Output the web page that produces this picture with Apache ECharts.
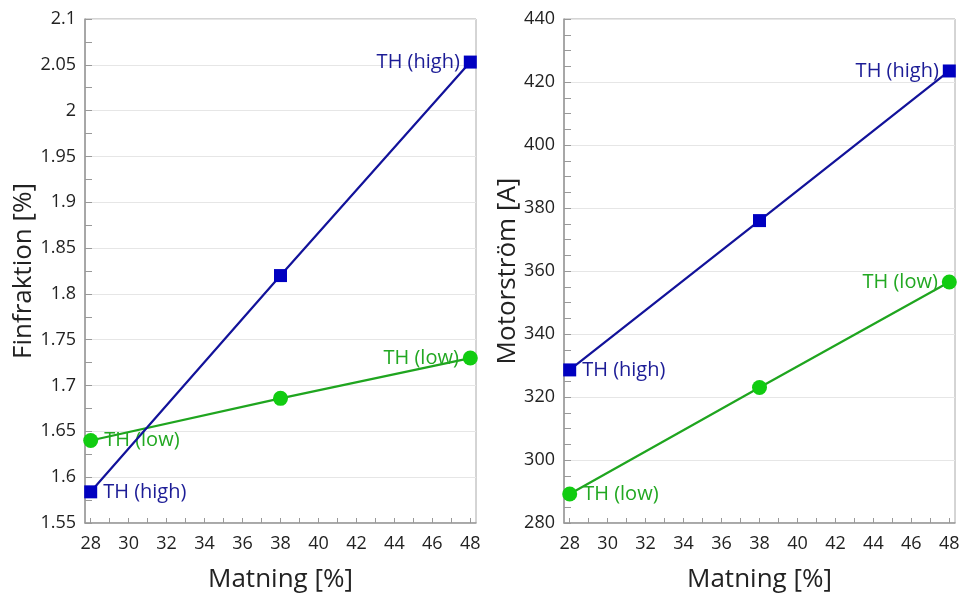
<!DOCTYPE html>
<html><head><meta charset="utf-8">
<script src="https://cdn.jsdelivr.net/npm/echarts@6/dist/echarts.min.js"></script>
<style>html,body{margin:0;padding:0;background:#fff}#c{width:962px;height:594px}</style>
</head><body><div id="c"></div>
<script>
const xValues = [28, 38, 48];
const finHigh = [1.584, 1.820, 2.053];
const finLow = [1.640, 1.686, 1.730];
const motHigh = [328.6, 376, 423.5];
const motLow = [289.2, 323, 356.5];
const xTickLabels = [28, 30, 32, 34, 36, 38, 40, 42, 44, 46, 48];
const xTicks = [28, 29, 30, 31, 32, 33, 34, 35, 36, 37, 38, 39, 40, 41, 42, 43, 44, 45, 46, 47, 48];
const xName = 'Matning [%]';
const yNameLeft = 'Finfraktion [%]';
const yNameRight = 'Motorström [A]';
const labelHigh = 'TH (high)';
const labelLow = 'TH (low)';

const FONT = 'Open Sans';
const BLUE = '#0000c0', BLUE_LINE = '#12129a', BLUE_TXT = '#1c1c96';
const GREEN = '#11cc11', GREEN_LINE = '#1fa51f', GREEN_TXT = '#22a822';

function pts(ys, txt, color) {
  return xValues.map((x, i) => {
    const item = { value: [x, ys[i]] };
    if (i === 0) item.label = { show: true, position: 'right', distance: 6, formatter: txt, color: color, fontSize: 20, fontFamily: FONT };
    if (i === xValues.length - 1) item.label = { show: true, position: 'left', distance: 4, formatter: txt, color: color, fontSize: 20, fontFamily: FONT };
    return item;
  });
}

function xAxis(gi) {
  return {
    gridIndex: gi, type: 'value', min: 27.7, max: 48.3,
    name: xName, nameLocation: 'middle', nameGap: 44,
    nameTextStyle: { fontSize: 26, fontFamily: FONT, color: '#222' },
    axisLine: { lineStyle: { color: '#999', width: 1.5 } },
    axisTick: { inside: true, length: 5, customValues: xTicks, lineStyle: { color: '#999' } },
    axisLabel: { fontSize: 18, fontFamily: FONT, color: '#222', margin: 12, customValues: xTickLabels },
    splitLine: { show: false }
  };
}
function yAxis(gi, min, max, interval, minorSplit, name, fmt) {
  return {
    gridIndex: gi, type: 'value', min: min, max: max, interval: interval,
    name: name, nameLocation: 'middle', nameGap: gi === 0 ? 45 : 42, nameRotate: 90,
    nameTextStyle: { fontSize: 26, fontFamily: FONT, color: '#222' },
    axisLine: { show: true, lineStyle: { color: '#999', width: 1.5 } },
    axisTick: { inside: true, length: 7, lineStyle: { color: '#999' } },
    minorTick: { show: true, splitNumber: minorSplit, length: 7, lineStyle: { color: '#999' } },
    axisLabel: { fontSize: 18, fontFamily: FONT, color: '#222', margin: 9, formatter: fmt },
    splitLine: { show: true, lineStyle: { color: '#e6e6e6' } }
  };
}

function series(gi, ys, txt, sym, size, mcol, lcol, tcol) {
  return {
    type: 'line', xAxisIndex: gi, yAxisIndex: gi,
    data: pts(ys, txt, tcol), symbol: sym, symbolSize: size,
    itemStyle: { color: mcol }, lineStyle: { color: lcol, width: 2.2 },
    emphasis: { disabled: true }, animation: false, z: sym === 'rect' ? 3 : 2
  };
}

const chart = echarts.init(document.getElementById('c'));
chart.setOption({
  backgroundColor: '#fff',
  animation: false,
  grid: [
    { left: 85, right: 486, top: 19, bottom: 71, show: true, borderColor: '#aaa', borderWidth: 1, containLabel: false, outerBoundsMode: 'none' },
    { left: 564, right: 7, top: 19, bottom: 71, show: true, borderColor: '#aaa', borderWidth: 1, containLabel: false, outerBoundsMode: 'none' }
  ],
  xAxis: [xAxis(0), xAxis(1)],
  yAxis: [
    yAxis(0, 1.55, 2.1, 0.05, 2, yNameLeft, v => +v.toFixed(2) + ''),
    yAxis(1, 280, 440, 20, 4, yNameRight, v => v + '')
  ],
  series: [
    series(0, finLow, labelLow, 'circle', 15, GREEN, GREEN_LINE, GREEN_TXT),
    series(0, finHigh, labelHigh, 'rect', 13, BLUE, BLUE_LINE, BLUE_TXT),
    series(1, motLow, labelLow, 'circle', 15, GREEN, GREEN_LINE, GREEN_TXT),
    series(1, motHigh, labelHigh, 'rect', 13, BLUE, BLUE_LINE, BLUE_TXT)
  ]
});
</script></body></html>
